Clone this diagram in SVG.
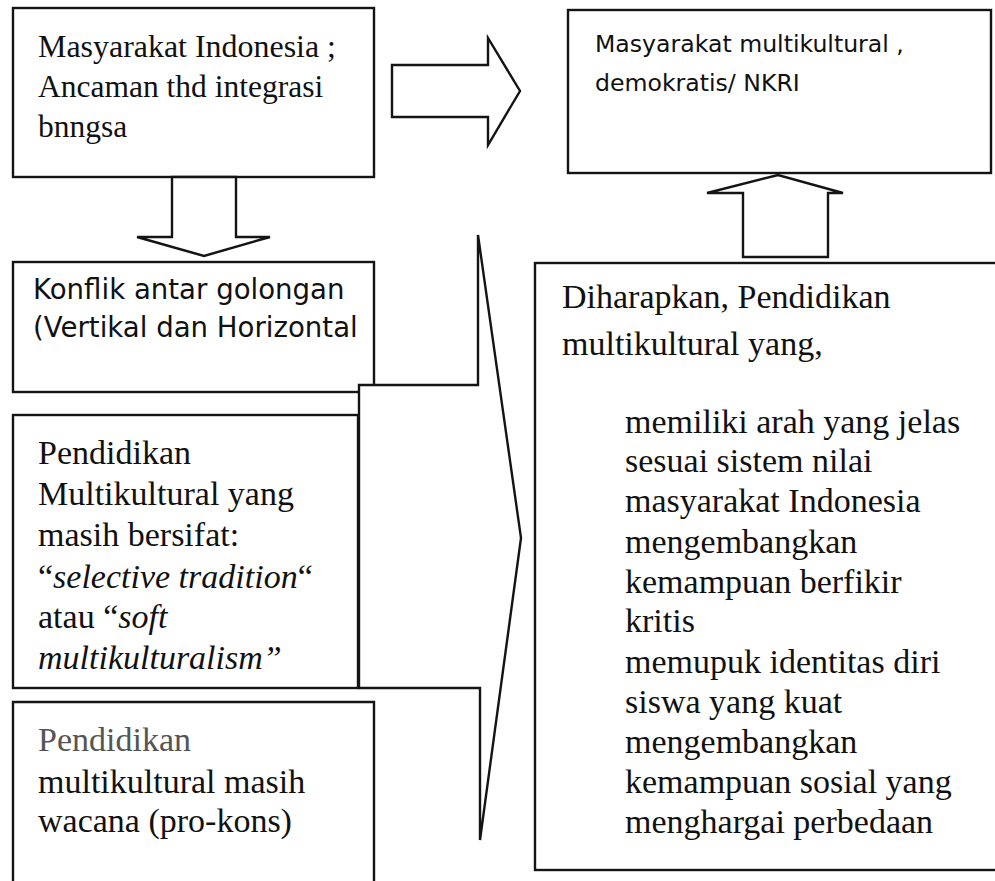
<svg xmlns="http://www.w3.org/2000/svg" width="995" height="881" viewBox="0 0 995 881">
  <style>
    .box { fill: #ffffff; stroke: #141414; stroke-width: 2.4; }
    .arrow { fill: #ffffff; stroke: #141414; stroke-width: 2.4; stroke-linejoin: miter; }
    .serif { font-family: "Liberation Serif", "Times New Roman", serif; fill: #111111; }
    .sans { font-family: "DejaVu Sans", Verdana, sans-serif; fill: #111111; }
    .it { font-style: italic; }
  </style>
  <rect x="0" y="0" width="995" height="881" fill="#ffffff"/>

  <!-- Top-left: starting condition -->
  <g id="node-masyarakat-indonesia">
    <rect class="box" x="13" y="8" width="361" height="169"/>
    <text class="serif" font-size="31.5" x="38" y="57" textLength="298" lengthAdjust="spacingAndGlyphs">Masyarakat Indonesia ;</text>
    <text class="serif" font-size="31.5">
      <tspan x="38" y="97">Ancaman thd integrasi</tspan>
      <tspan x="38" y="137">bnngsa</tspan>
    </text>
  </g>

  <!-- Top-right: goal -->
  <g id="node-masyarakat-multikultural">
    <rect class="box" x="568" y="10" width="423" height="163"/>
    <text class="sans" font-size="23.6">
      <tspan x="595" y="52">Masyarakat multikultural ,</tspan>
      <tspan x="595" y="91">demokratis/ NKRI</tspan>
    </text>
  </g>

  <!-- Left column -->
  <g id="node-konflik">
    <rect class="box" x="13" y="262" width="361" height="130"/>
    <text class="sans" font-size="27.6">
      <tspan x="33" y="299">Konflik antar golongan</tspan>
      <tspan x="33" y="337">(Vertikal dan Horizontal</tspan>
    </text>
  </g>

  <g id="node-pendidikan-selective">
    <rect class="box" x="13" y="415" width="345" height="273"/>
    <text class="serif" font-size="34">
      <tspan x="38" y="464">Pendidikan</tspan>
      <tspan x="38" y="505">Multikultural yang</tspan>
      <tspan x="38" y="546">masih bersifat:</tspan>
      <tspan x="38" y="588">“<tspan class="it">selective tradition</tspan>“</tspan>
      <tspan x="38" y="628">atau “<tspan class="it">soft</tspan></tspan>
      <tspan x="38" y="669" class="it">multikulturalism”</tspan>
    </text>
  </g>

  <g id="node-pendidikan-wacana">
    <path class="box" d="M13,890 L13,702 L374,702 L374,890"/>
    <text class="serif" font-size="34">
      <tspan x="38" y="751" fill="#555555">Pendidikan</tspan>
      <tspan x="38" y="793">multikultural masih</tspan>
      <tspan x="38" y="832">wacana (pro-kons)</tspan>
    </text>
  </g>

  <!-- Right column: expectations -->
  <g id="node-diharapkan">
    <rect class="box" x="535" y="263" width="470" height="607"/>
    <text class="serif" font-size="34">
      <tspan x="562" y="308">Diharapkan, Pendidikan</tspan>
      <tspan x="562" y="355">multikultural yang,</tspan>
      <tspan x="625" y="433">memiliki arah yang jelas</tspan>
      <tspan x="625" y="472">sesuai sistem nilai</tspan>
      <tspan x="625" y="512">masyarakat Indonesia</tspan>
      <tspan x="625" y="553">mengembangkan</tspan>
      <tspan x="625" y="593">kemampuan berfikir</tspan>
      <tspan x="625" y="632">kritis</tspan>
      <tspan x="625" y="673">memupuk identitas diri</tspan>
      <tspan x="625" y="713">siswa yang kuat</tspan>
      <tspan x="625" y="753">mengembangkan</tspan>
      <tspan x="625" y="793">kemampuan sosial yang</tspan>
      <tspan x="625" y="833">menghargai perbedaan</tspan>
    </text>
  </g>

  <!-- Block arrows -->
  <g id="connectors">
    <polygon class="arrow" points="392,65 488,65 488,38 520,91 488,145 488,117 392,117"/>
    <polygon class="arrow" points="172,177 172,237 137,237 204,256 270,237 236,237 236,177"/>
    <polygon class="arrow" points="743,257 743,193 707,193 778,175 843,193 828,193 828,257"/>
    <polygon class="arrow" points="478,235 521,538 480,840 480,688 359,688 359,385 478,385"/>
  </g>
</svg>
